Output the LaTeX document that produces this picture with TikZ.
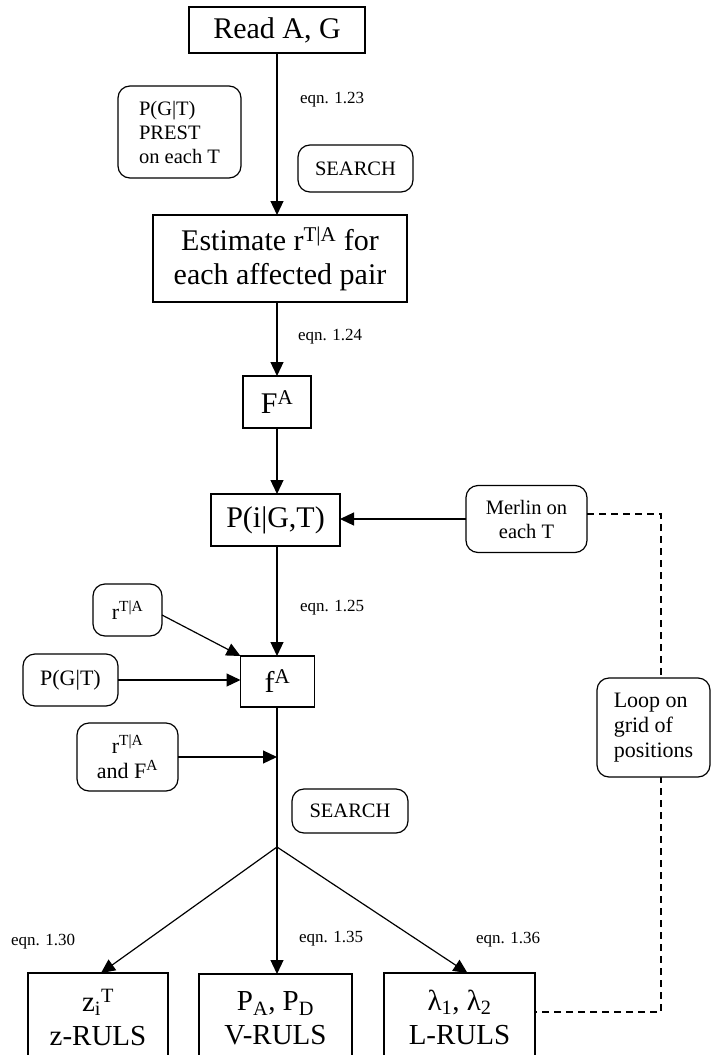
\documentclass[tikz,border=0pt]{standalone}
\usepackage{fontspec}
\setmainfont{Liberation Serif}
\usetikzlibrary{arrows.meta}
\begin{document}
\begin{tikzpicture}[x=1pt,y=-1pt,
  every node/.style={inner sep=0pt,outer sep=0pt},
  sq/.style={draw,line width=1.2pt,align=center,font=\fontsize{30}{34}\selectfont},
  bot/.style={draw,line width=1.2pt,align=center,font=\fontsize{29}{34}\selectfont},
  rnd/.style={draw,line width=1.2pt,rounded corners=12pt,align=center,font=\fontsize{20.5}{24}\selectfont},
  rndb/.style={rnd,font=\fontsize{22}{25}\selectfont},
  lbl/.style={font=\fontsize{17}{20}\selectfont,anchor=west},
  arr/.style={line width=1.2pt,-{Triangle[length=14pt,width=13pt]}},
  ln/.style={line width=1.2pt},
  dline/.style={line width=1.2pt,dash pattern=on 7pt off 5pt}]
\useasboundingbox (0,0) rectangle (711,1055);
% nodes
\node[sq,minimum width=176,minimum height=46] (read) at (277,30) {Read A, G};
\node[rnd,align=left,minimum width=123,minimum height=92] (prest) at (179.5,132) {P(G|T)\\PREST\\on each T};
\node[lbl] (e123) at (300,100) {eqn. 1.23};
\node[rnd,minimum width=115,minimum height=47] (s1) at (355.5,168.5) {SEARCH};
\node[sq,minimum width=254,minimum height=87] (est) at (280,258.5) {Estimate r\textsuperscript{T|A} for\\each affected pair};
\node[lbl] (e124) at (298,337) {eqn. 1.24};
\node[sq,minimum width=68,minimum height=52] (FA) at (277,402) {F\textsuperscript{A}};
\node[sq,minimum width=129,minimum height=52] (Pi) at (275.5,520) {P(i|G,T)};
\node[rnd,minimum width=121,minimum height=67] (mer) at (526.5,519) {Merlin on\\each T};
\node[lbl] (e125) at (300,608) {eqn. 1.25};
\node[rndb,minimum width=69,minimum height=52] (rTA) at (127.5,610) {r\textsuperscript{T|A}};
\node[rndb,minimum width=95,minimum height=52] (PGT) at (70.5,680) {P(G|T)};
\node[sq,minimum width=74,minimum height=51] (fA) at (277.5,681.5) {f\textsuperscript{A}};
\node[rndb,minimum width=101,minimum height=68] (rF) at (127.5,757) {r\textsuperscript{T|A}\\and F\textsuperscript{A}};
\node[rnd,minimum width=116,minimum height=44] (s2) at (350,811) {SEARCH};
\coordinate (br) at (277,847);
\node[lbl] (e130) at (11,942) {eqn. 1.30};
\node[lbl] (e135) at (299,939) {eqn. 1.35};
\node[lbl] (e136) at (476,940) {eqn. 1.36};
\node[bot,minimum width=140,minimum height=88] (zb) at (98,1017) {z\textsubscript{i}\textsuperscript{T}\\z-RULS};
\node[bot,minimum width=153,minimum height=88] (pb) at (275.5,1018) {P\textsubscript{A}, P\textsubscript{D}\\V-RULS};
\node[bot,minimum width=151,minimum height=88] (lb) at (459.5,1017) {λ\textsubscript{1}, λ\textsubscript{2}\\L-RULS};
% connectors
\draw[arr] (read.south) -- (read.south |- est.north);
\draw[arr] (FA.north |- est.south) -- (FA.north);
\draw[arr] (FA.south) -- (FA.south |- Pi.north);
\draw[arr] (FA.south |- Pi.south) -- (FA.south |- fA.north);
\draw[arr] (mer.west) -- (mer.west -| Pi.east);
\draw[arr] ([yshift=-5pt]rTA.east) -- (fA.north west);
\draw[arr] (PGT.east) -- (PGT.east -| fA.west);
\draw[ln] (FA.south |- fA.south) -- (br);
\draw[arr] (rF.east) -- (rF.east -| br);
\draw[arr] (br) -- ([xshift=3pt]zb.north);
\draw[arr] (br) -- (br |- pb.north);
\draw[arr] (br) -- ([xshift=8pt]lb.north);
\coordinate (dx) at (661,0);
\draw[dline] ([yshift=5pt]mer.east) -- ([yshift=5pt]mer.east -| dx) |- ([yshift=5pt]lb.east);
\node[rndb,align=left,fill=white,minimum width=113,minimum height=99] (loop) at (653.5,727.5) {Loop on\\grid of\\positions};
\end{tikzpicture}
\end{document}
